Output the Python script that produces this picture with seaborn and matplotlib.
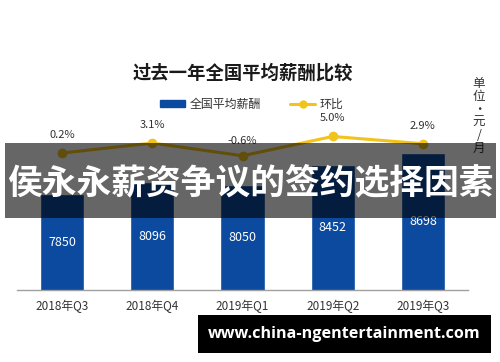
import matplotlib
matplotlib.use("Agg")
import matplotlib.pyplot as plt
import seaborn as sns
import pandas as pd
from matplotlib.patches import Rectangle
from matplotlib.lines import Line2D

categories = ["2018年Q3", "2018年Q4", "2019年Q1", "2019年Q2", "2019年Q3"]
salary = [7850, 8096, 8050, 8452, 8698]
growth = [0.2, 3.1, -0.6, 5.0, 2.9]
growth_labels = ["0.2%", "3.1%", "-0.6%", "5.0%", "2.9%"]

sns.set_theme(style="white")
plt.rcParams["font.family"] = ["Noto Sans CJK SC", "DejaVu Sans"]

W, H = 500, 362
fig = plt.figure(figsize=(5, 3.62), dpi=100)
fig.patch.set_facecolor("white")

def fx(x):
    return x / W

def fy(y):
    return 1 - y / H

ax = fig.add_axes([fx(17), fy(290), 451 / W, 170 / H])
df = pd.DataFrame({"q": categories, "salary": salary, "growth": growth})
bar_color = "#0b4a9e"
sns.barplot(data=df, x="q", y="salary", color=bar_color, width=0.49,
            saturation=1, ax=ax, zorder=2)
ax.set_ylim(5890, 9374)
ax.set_xlim(-0.5, 4.5)
ax.set_xlabel("")
ax.set_ylabel("")
ax.set_yticks([])
for s in ["top", "left", "right"]:
    ax.spines[s].set_visible(False)
ax.spines["bottom"].set_color("#a0a0a0")
ax.spines["bottom"].set_linewidth(1.0)
ax.tick_params(axis="x", which="major", length=0, labelsize=8.5,
               labelcolor="#333333", pad=7)
ax.set_xticks([i - 0.5 for i in range(len(categories) + 1)], minor=True)
ax.tick_params(axis="x", which="minor", length=5, color="#a0a0a0",
               width=1.0, direction="out")
ax.patch.set_alpha(0)

for i, v in enumerate(salary):
    ax.text(i, (v + 5890) / 2, str(v), ha="center", va="center",
            color="white", fontsize=9, zorder=3)

ax2 = ax.twinx()
line_color = "#f2c31b"
sns.lineplot(x=list(range(len(categories))), y=growth, ax=ax2, color=line_color,
             linewidth=2.2, marker="o", markersize=7, markeredgewidth=0,
             zorder=4)
ax2.set_ylim(-39.5, 9.77)
ax2.set_xlim(-0.5, 4.5)
ax2.set_yticks([])
for s in ["top", "left", "right", "bottom"]:
    ax2.spines[s].set_visible(False)
for i, (v, lab) in enumerate(zip(growth, growth_labels)):
    off = 9.5 if v >= 0 else 7
    ax2.annotate(lab, (i, v), xytext=(0, off), textcoords="offset points",
                 ha="center", va="bottom", fontsize=8, color="#333333")

# title
fig.text(fx(243), fy(73), "过去一年全国平均薪酬比较", ha="center", va="center",
         fontsize=13.2, fontweight="bold", color="#1a1a1a")

# legend
handles = [Rectangle((0, 0), 1, 1, color=bar_color),
           Line2D([0], [0], color=line_color, linewidth=2.2, marker="o",
                  markersize=6, markeredgewidth=0)]
fig.legend(handles, ["全国平均薪酬", "环比"], ncol=2, frameon=False,
           loc="center", bbox_to_anchor=(fx(252), fy(104)), fontsize=8.6,
           handlelength=2.1, handleheight=0.5, columnspacing=2.4,
           handletextpad=0.4, labelcolor="#333333")

# unit label vertical
fig.text(fx(479), fy(116), "单\n位\n·\n元\n/\n月", ha="center", va="center",
         fontsize=9, color="#333333", linespacing=1.0)

# banner overlay
fig.add_artist(Rectangle((fx(5), fy(218)), fx(491), 75 / H,
                         transform=fig.transFigure, facecolor="black",
                         alpha=0.6, edgecolor="none", zorder=10))
fig.text(fx(250), fy(183), "侯永永薪资争议的签约选择因素", ha="center",
         va="center", fontsize=25, fontweight="bold", color="white",
         zorder=11)

# watermark box
fig.add_artist(Rectangle((fx(198), fy(353)), fx(293), 38 / H,
                         transform=fig.transFigure, facecolor="black",
                         edgecolor="none", zorder=10))
fig.text(fx(344), fy(334), "www.china-ngentertainment.com", ha="center",
         va="center", fontsize=11.6, fontweight="bold", color="white",
         family=["Open Sans", "DejaVu Sans"], zorder=11)

fig.savefig("out.png", dpi=100)
